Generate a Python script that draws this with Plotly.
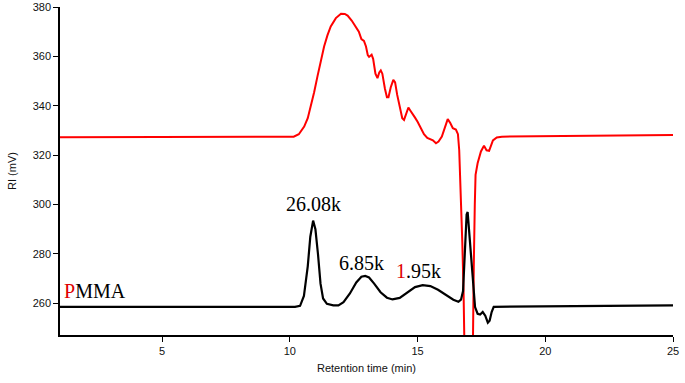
import plotly.graph_objects as go

# Red trace (upper RI signal)
red_t = [1.0, 10.15, 10.35, 10.56, 10.7, 10.82, 10.95, 11.08, 11.2, 11.34, 11.47, 11.6, 11.8, 12.0,
         12.15, 12.26, 12.42, 12.58, 12.7, 12.8, 12.9, 12.98, 13.05, 13.1, 13.2, 13.26, 13.35, 13.43,
         13.5, 13.56, 13.62, 13.72, 13.8, 13.86, 13.95, 14.05, 14.12, 14.2, 14.3, 14.4, 14.47, 14.55,
         14.64, 14.72, 14.8, 14.9, 15.0, 15.13, 15.25, 15.38, 15.5, 15.6, 15.72, 15.82, 15.95, 16.05,
         16.18, 16.28, 16.38, 16.5, 16.58, 16.63, 16.68, 16.75, 16.8, 16.86, 16.9, 17.12, 17.16, 17.2,
         17.24, 17.27, 17.35, 17.48, 17.6, 17.7, 17.8, 17.95, 18.1, 18.3, 25.0]
red_v = [327.3, 327.5, 328.5, 331.6, 335, 339.7, 345.5, 351.9, 358, 364, 368.5, 372.1, 375.5, 377.3,
         377.2, 376.5, 374.5, 372.1, 370, 367, 366.3, 364, 360.5, 359.8, 360.7, 359, 353, 351.2,
         353.5, 354.3, 353, 347, 343.5, 343.5, 347.5, 350.5, 349.5, 344.5, 339, 335, 334.3, 336.5,
         339.3, 338, 336.5, 335.2, 333.5, 331.2, 328.5, 327, 326.5, 326, 324.8, 325.5, 327.5, 331,
         334.6, 333, 330.9, 330.4, 328.5, 322, 308, 285, 265, 245, 200, 200, 245, 275,
         300, 312, 316.7, 321.5, 323.8, 322, 321.8, 326, 327.2, 327.5, 328.2]

# Black trace (PMMA)
black_t = [1.0, 10.2, 10.4, 10.55, 10.7, 10.8, 10.91, 11.0, 11.1, 11.2, 11.3, 11.45, 11.7, 11.9,
           12.1, 12.35, 12.6, 12.8, 12.95, 13.1, 13.3, 13.55, 13.8, 14.02, 14.3, 14.6, 14.9, 15.2,
           15.5, 15.8, 16.1, 16.4, 16.6, 16.7, 16.78, 16.85, 16.92, 16.96, 17.0, 17.06, 17.12, 17.18,
           17.25, 17.35, 17.45, 17.55, 17.65, 17.75, 17.82, 17.9, 17.98, 25.0]
black_v = [258.6, 258.6, 259.0, 263, 275, 287, 293.5, 290, 280, 268, 262, 259.8, 259.2, 259.2,
           260.5, 264, 268.5, 270.8, 271.1, 270.5, 268, 264.5, 262.3, 261.6, 262.2, 264.5, 266.6, 267.4,
           267, 265.5, 263.5, 261.5, 260.7, 261.5, 265, 283, 296, 297, 292, 284, 275, 266,
           258.5, 255.8, 255.5, 256.5, 255, 252.2, 253, 256.5, 258.6, 259.2]

x_ticks = [5, 10, 15, 20, 25]
y_ticks = [260, 280, 300, 320, 340, 360, 380]

fig = go.Figure()
fig.add_trace(go.Scatter(x=red_t, y=red_v, mode="lines",
                         line=dict(color="#ff0000", width=2), showlegend=False))
fig.add_trace(go.Scatter(x=black_t, y=black_v, mode="lines",
                         line=dict(color="#000000", width=2.2), showlegend=False))

serif = "Liberation Serif, Times New Roman, serif"
ann_font = dict(family=serif, size=20, color="#000000")
fig.add_annotation(x=10.94, y=300.2, text="26.08k", showarrow=False, font=ann_font)
fig.add_annotation(x=12.82, y=276.3, text="6.85k", showarrow=False, font=ann_font)
fig.add_annotation(x=15.02, y=273.1, text="<span style='color:#e00000'>1</span>.95k",
                   showarrow=False, font=ann_font)
fig.add_annotation(x=1.06, y=265.2, text="<span style='color:#e00000'>P</span>MMA",
                   showarrow=False, xanchor="left", font=ann_font)

axis_font = dict(family="Liberation Sans, Arial, sans-serif", size=11, color="#111111")
fig.update_layout(
    width=685, height=383,
    margin=dict(l=60, r=12, t=7, b=48),
    paper_bgcolor="white", plot_bgcolor="white",
    font=axis_font,
    xaxis=dict(range=[1, 25], tickvals=x_ticks, showgrid=False, zeroline=False,
               showline=True, linecolor="black", linewidth=1.5, ticks="outside",
               ticklen=5, tickcolor="black", tickfont=axis_font, automargin=False,
               title=dict(text="Retention time (min)", font=axis_font, standoff=8)),
    yaxis=dict(range=[247.2, 380], tickvals=y_ticks, showgrid=False, zeroline=False,
               showline=True, linecolor="black", linewidth=1.5, ticks="outside",
               ticklen=5, tickcolor="black", tickfont=axis_font, automargin=False,
               title=dict(text="RI (mV)", font=axis_font, standoff=14)),
)

fig.write_html("out.html", config={"displayModeBar": False},
               post_script="document.body.style.margin='0';")
